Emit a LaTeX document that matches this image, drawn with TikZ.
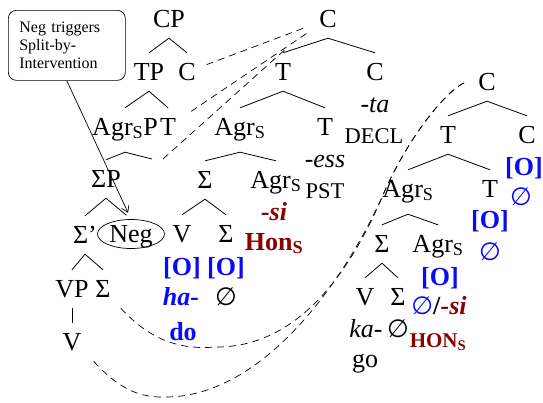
\documentclass[tikz,border=0pt]{standalone}
\usepackage{fontspec}
\setmainfont{Liberation Serif}
\newfontfamily\symfont{DejaVu Sans}
\usepackage{tikz}
\usetikzlibrary{arrows.meta,shapes.geometric}
\definecolor{FeatBlue}{RGB}{10,10,250}
\definecolor{HonRed}{RGB}{139,0,0}
\newcommand{\treefont}{\fontsize{26}{30}\selectfont}
\newcommand{\emptymark}{{\symfont\fontsize{25}{28}\selectfont ∅}}

\begin{document}
\begin{tikzpicture}[x=1pt,y=-1pt,
  cat/.style={anchor=base,inner sep=0pt,text height=27pt,text depth=11pt,font=\treefont},
  agr/.style={cat,text depth=17pt},
  gloss/.style={anchor=base,inner sep=0pt,font=\treefont},
  feat/.style={gloss,text=FeatBlue,font=\treefont\bfseries},
  hon/.style={gloss,text=HonRed,font=\treefont\bfseries},
  tag/.style={gloss,font=\fontsize{22.5}{26}\selectfont},
  negbox/.style={ellipse,draw,line width=0.7pt,minimum width=67pt,minimum height=29pt,inner sep=0pt,text height=17pt,text depth=0pt,font=\treefont},
  notebox/.style={draw,line width=0.7pt,rounded corners=8pt,anchor=north west,align=left,text width=95pt,inner xsep=11pt,minimum height=70pt,font=\fontsize{16}{18}\selectfont},
  branch/.style={line width=0.8pt},
  move/.style={line width=0.7pt,dash pattern=on 7pt off 5pt},
  pointer/.style={-{Straight Barb[length=6pt,width=8pt]},line width=0.7pt}
]
\useasboundingbox (0,0) rectangle (543,402);

% callout
\node[notebox] (note) at (8,10) {Neg triggers\\Split-by-\\Intervention};

% left tree
\node[cat] (cp) at (169,27) {CP};
\node[cat] (tp) at (149,80) {TP};
\node[cat] (c1) at (187,80) {C};
\node[agr] (agrsp) at (125,135) {Agr\textsubscript{S}P};
\node[cat] (t1) at (168,135) {T};
\coordinate (agrhead) at (152,159);
\node[cat] (sigp) at (106,187) {ΣP};
\node[cat] (sigbar) at (85,243) {Σ’};
\node[negbox] (neg) at (131,234) {Neg};
\node[cat] (vp) at (72,297) {VP};
\node[cat] (sigvp) at (103,297) {Σ};
\node[cat] (v1) at (72,350) {V};

\draw[branch] (tp.north) -- (cp.south) -- (c1.north);
\draw[branch] (agrsp.north) -- (tp.south) -- (t1.north);
\draw[branch] (sigp.north) -- (agrsp.south) -- (agrhead);
\draw[branch] (sigbar.north) -- (sigp.south);
\draw[branch,shorten >=6pt] (sigp.south) -- (neg.north);
\draw[branch] (vp.north) -- (sigbar.south) -- (sigvp.north);
\draw[branch] (vp.south) -- (v1.north);

% middle tree
\node[cat] (ctop) at (328,27) {C};
\node[cat] (t2) at (283,80) {T};
\node[cat] (c2) at (375,80) {C};
\node[gloss] (ta) at (375,112) {\textit{-ta}};
\node[tag] (decl) at (374,143) {DECL};
\node[agr] (agr2) at (240,135) {Agr\textsubscript{S}};
\node[cat] (t3) at (325,135) {T};
\node[gloss] (ess) at (325,167) {\textit{-ess}};
\node[tag] (pst) at (325,198) {PST};
\node[cat] (sig2) at (205,188) {Σ};
\node[agr] (agr3) at (276,188) {Agr\textsubscript{S}};
\node[hon] (si1) at (274,220) {\textit{-si}};
\node[hon] (hon1) at (274,250) {Hon\textsubscript{S}};
\node[cat] (v2) at (182,242) {V};
\node[cat] (sig3) at (226,242) {Σ};
\node[feat] (o1) at (182,275) {[O]};
\node[feat] (o2) at (226,275) {[O]};
\node[feat] (ha) at (181,305) {\textit{ha-}};
\node[gloss] (emp1) at (226,305) {\emptymark};
\node[feat] (do) at (183,340) {do};

\draw[branch] (t2.north) -- (ctop.south) -- (c2.north);
\draw[branch] (agr2.north) -- (t2.south) -- (t3.north);
\draw[branch] (sig2.north) -- (agr2.south) -- (agr3.north);
\draw[branch] (v2.north) -- (sig2.south) -- (sig3.north);

% right tree
\node[cat] (c3) at (487,90) {C};
\node[cat] (t4) at (448,143) {T};
\node[cat] (c4) at (527,143) {C};
\node[feat] (o3) at (524,175) {[O]};
\node[gloss,text=FeatBlue] (emp2) at (521,205) {\emptymark};
\node[agr] (agr4) at (408,197) {Agr\textsubscript{S}};
\node[cat] (t5) at (490,197) {T};
\node[feat] (o4) at (490,228) {[O]};
\node[gloss,text=FeatBlue] (emp3) at (490,260) {\emptymark};
\node[cat] (sig4) at (382,252) {Σ};
\node[agr] (agr5) at (438,252) {Agr\textsubscript{S}};
\node[feat] (o5) at (440,285) {[O]};
\node[gloss] (nulsi) at (439,314) {\textcolor{FeatBlue}{\emptymark}\textbf{/}\textcolor{HonRed}{\textbf{\textit{-si}}}};
\node[hon,font=\fontsize{21}{24}\selectfont\bfseries] (hon2) at (438,347) {HON\textsubscript{S}};
\node[cat] (v3) at (365,305) {V};
\node[cat] (sig5) at (398,305) {Σ};
\node[gloss] (ka) at (366,337) {\textit{ka-}};
\node[gloss] (emp4) at (398,337) {\emptymark};
\node[gloss] (go) at (365,367) {go};

\draw[branch] (t4.north) -- (c3.south) -- (c4.north);
\draw[branch] (agr4.north) -- (t4.south) -- (t5.north);
\draw[branch] (sig4.north) -- (agr4.south) -- (agr5.north);
\draw[branch] (v3.north) -- (sig4.south) -- (sig5.north);

% movement lines
\draw[move,shorten <=21pt,shorten >=24pt] (c1.center) -- (ctop.center);
\draw[move,shorten <=28pt,shorten >=25pt] (t1.center) -- (ctop.center);
\draw[move,shorten >=44pt] ([xshift=11pt]agrhead) -- (ctop.west);
\draw[move] ([xshift=10pt]sigvp.south east) .. controls (150,340) and (180,350) .. (215,347)
  .. controls (290,348) and (345,285) .. (383,195)
  .. controls (405,143) and (445,90) .. ([xshift=-12pt]c3.west);
\draw[move] ([xshift=12pt]v1.south east) .. controls (120,390) and (140,398) .. (168,397)
  .. controls (260,395) and (340,290) .. (383,195)
  .. controls (405,143) and (445,90) .. ([xshift=-12pt]c3.west);

\draw[pointer,shorten >=7pt] (note.south) -- (neg.north);
\end{tikzpicture}
\end{document}
